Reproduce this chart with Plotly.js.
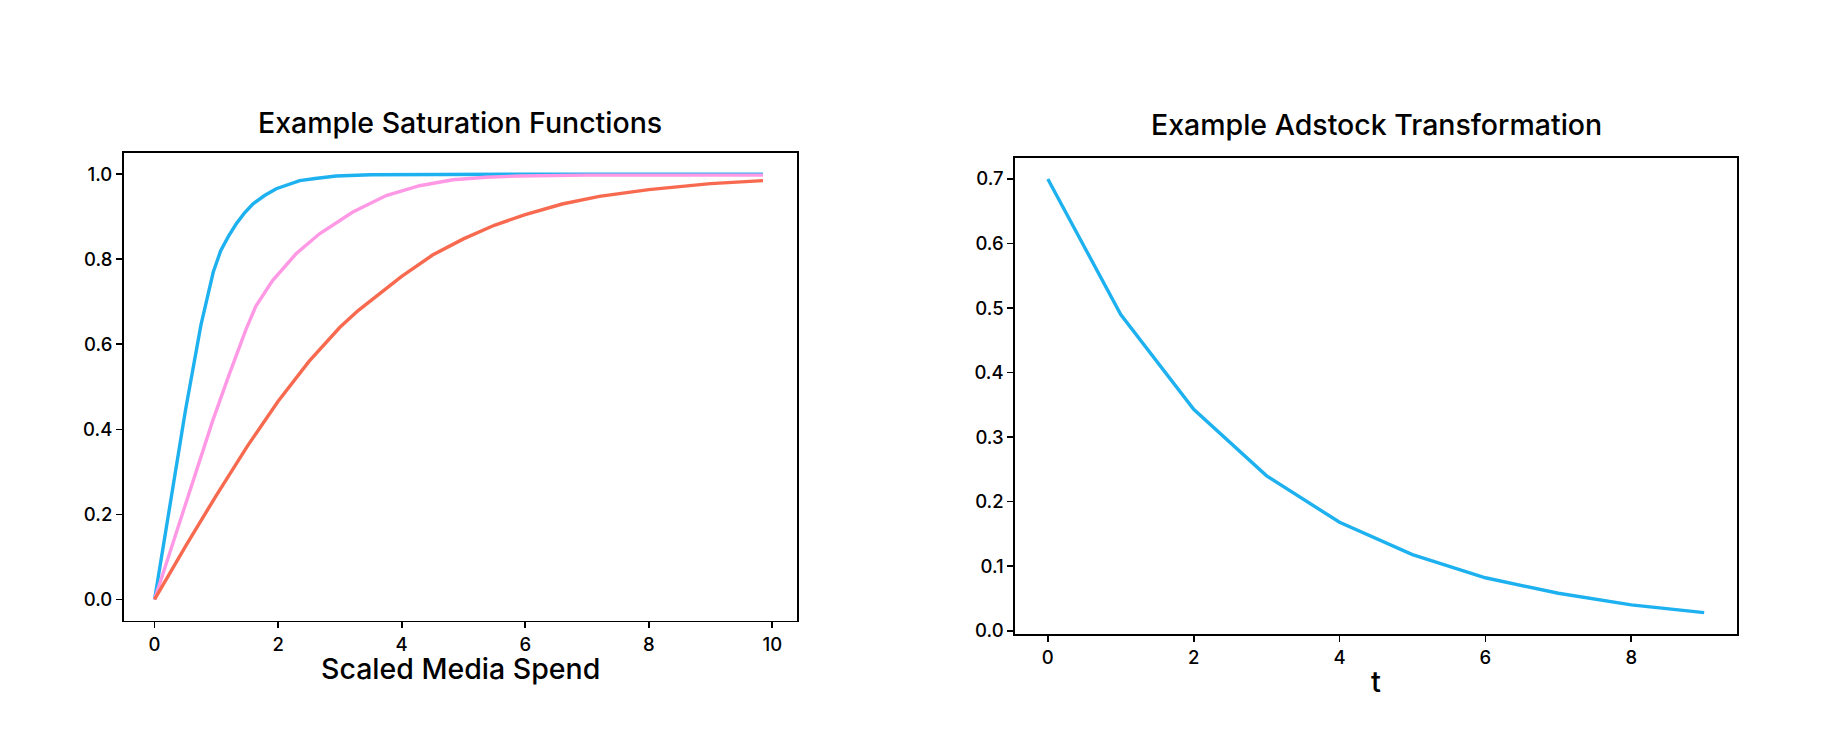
<!DOCTYPE html>
<html>
<head>
<meta charset="utf-8">
<script src="https://cdn.plot.ly/plotly-3.0.1.min.js"></script>
<style>
  html, body { margin: 0; padding: 0; background: #ffffff; }
  #chart { width: 1842px; height: 747px; }
</style>
</head>
<body>
<div id="chart"></div>
<script>
// ---- Saturation curves ----
const blueX   = [0, 0.25, 0.5, 0.75, 0.95, 1.07, 1.2, 1.32, 1.45, 1.59, 1.78, 1.97, 2.2, 2.35, 2.6, 2.94, 3.5, 4.5, 6, 8, 9.85];
const blueY   = [0, 0.225, 0.445, 0.645, 0.77, 0.82, 0.855, 0.883, 0.908, 0.93, 0.95, 0.966, 0.978, 0.985, 0.99, 0.996, 0.999, 1.0, 1.0, 1.0, 1.0];

const pinkX   = [0, 0.5, 0.94, 1.21, 1.48, 1.64, 1.91, 2.29, 2.67, 3.21, 3.75, 4.29, 4.83, 5.37, 5.91, 7, 8.5, 9.85];
const pinkY   = [0, 0.225, 0.42, 0.53, 0.635, 0.69, 0.75, 0.813, 0.86, 0.911, 0.95, 0.973, 0.987, 0.993, 0.996, 0.998, 0.998, 0.998];

const orangeX = [0, 0.5, 1.0, 1.5, 2.0, 2.5, 3.0, 3.3, 4.0, 4.5, 5.0, 5.5, 6.0, 6.6, 7.2, 8.0, 9.0, 9.85];
const orangeY = [0, 0.125, 0.245, 0.36, 0.466, 0.56, 0.64, 0.68, 0.76, 0.81, 0.848, 0.88, 0.905, 0.93, 0.948, 0.964, 0.978, 0.985];

// ---- Adstock transformation ----
const adstockT = [0, 1, 2, 3, 4, 5, 6, 7, 8, 9];
const adstockY = [0.70, 0.49, 0.343, 0.24, 0.168, 0.118, 0.082, 0.058, 0.040, 0.028];

// ---- Tick labels ----
const satXTicks = [0, 2, 4, 6, 8, 10];
const satYTicks = [0, 0.2, 0.4, 0.6, 0.8, 1.0];
const adXTicks  = [0, 2, 4, 6, 8];
const adYTicks  = [0, 0.1, 0.2, 0.3, 0.4, 0.5, 0.6, 0.7];

const titles = {
  left: 'Example Saturation Functions',
  right: 'Example Adstock Transformation',
  leftX: 'Scaled Media Spend',
  rightX: 't'
};

const FONT = 'Inter, Roboto, "Liberation Sans", sans-serif';
const BLUE = '#1EB1F0', PINK = '#FF99E5', ORANGE = '#F86A4F';
const W = 1842, H = 747;

const traces = [
  {x: blueX, y: blueY, type: 'scatter', mode: 'lines', line: {color: BLUE, width: 3.4}, xaxis: 'x', yaxis: 'y', hoverinfo: 'skip'},
  {x: pinkX, y: pinkY, type: 'scatter', mode: 'lines', line: {color: PINK, width: 3.4}, xaxis: 'x', yaxis: 'y', hoverinfo: 'skip'},
  {x: orangeX, y: orangeY, type: 'scatter', mode: 'lines', line: {color: ORANGE, width: 3.4}, xaxis: 'x', yaxis: 'y', hoverinfo: 'skip'},
  {x: adstockT, y: adstockY, type: 'scatter', mode: 'lines', line: {color: BLUE, width: 3.4}, xaxis: 'x2', yaxis: 'y2', hoverinfo: 'skip'}
];

function axisBase(extra) {
  return Object.assign({
    showgrid: false, zeroline: false,
    showline: true, mirror: true, linecolor: '#000', linewidth: 1.7,
    ticks: 'outside', ticklen: 6, tickwidth: 1.7, tickcolor: '#000',
    tickfont: {family: FONT, size: 18.5, color: '#000', weight: 500},
    fixedrange: true
  }, extra);
}

const layout = {
  width: W, height: H,
  margin: {l: 0, r: 0, t: 0, b: 0},
  paper_bgcolor: '#fff', plot_bgcolor: '#fff',
  showlegend: false,
  xaxis: axisBase({domain: [123.7 / W, 797 / W], range: [-0.5, 10.4], tickvals: satXTicks, anchor: 'y'}),
  yaxis: axisBase({domain: [1 - 620.7 / H, 1 - 153 / H], range: [-0.05, 1.05], tickvals: satYTicks, tickformat: '.1f', anchor: 'x'}),
  xaxis2: axisBase({domain: [1015 / W, 1737 / W], range: [-0.45, 9.45], tickvals: adXTicks, anchor: 'y2'}),
  yaxis2: axisBase({domain: [1 - 634.3 / H, 1 - 157.7 / H], range: [-0.0056, 0.733], tickvals: adYTicks, tickformat: '.1f', anchor: 'x2'}),
  annotations: [
    {text: titles.left, xref: 'paper', yref: 'paper', x: 460.4 / W, y: 1 - 122 / H, xanchor: 'center', yanchor: 'middle', showarrow: false,
     font: {family: FONT, size: 28.5, color: '#000', weight: 500}},
    {text: titles.right, xref: 'paper', yref: 'paper', x: 1376 / W, y: 1 - 125 / H, xanchor: 'center', yanchor: 'middle', showarrow: false,
     font: {family: FONT, size: 28.5, color: '#000', weight: 500}},
    {text: titles.leftX, xref: 'paper', yref: 'paper', x: 460 / W, y: 1 - 668 / H, xanchor: 'center', yanchor: 'middle', showarrow: false,
     font: {family: FONT, size: 28.5, color: '#000', weight: 500}},
    {text: titles.rightX, xref: 'paper', yref: 'paper', x: 1376 / W, y: 1 - 681 / H, xanchor: 'center', yanchor: 'middle', showarrow: false,
     font: {family: FONT, size: 29, color: '#000', weight: 500}}
  ]
};

Plotly.newPlot('chart', traces, layout, {displayModeBar: false, staticPlot: true});
</script>
</body>
</html>
